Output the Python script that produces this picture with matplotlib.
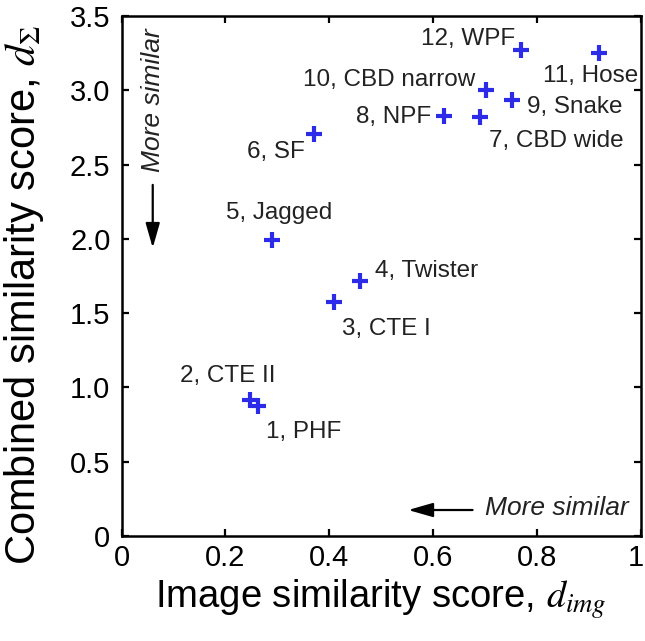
import matplotlib
matplotlib.use("Agg")
import matplotlib.pyplot as plt
import matplotlib.transforms as mtransforms

plt.rcParams['font.family'] = ['Liberation Sans', 'DejaVu Sans']
plt.rcParams['mathtext.fontset'] = 'stix'

# data
names = ['1, PHF', '2, CTE II', '3, CTE I', '4, Twister', '5, Jagged', '6, SF',
         '7, CBD wide', '8, NPF', '9, Snake', '10, CBD narrow', '11, Hose', '12, WPF']
d_img = [0.262, 0.248, 0.410, 0.460, 0.290, 0.370,
         0.690, 0.621, 0.751, 0.701, 0.920, 0.770]
d_sum = [0.876, 0.915, 1.575, 1.717, 1.990, 2.706,
         2.820, 2.825, 2.937, 3.006, 3.255, 3.274]

xticks = [0, 0.2, 0.4, 0.6, 0.8, 1]
xticklabels = ['0', '0.2', '0.4', '0.6', '0.8', '1']
yticks = [0, 0.5, 1.0, 1.5, 2.0, 2.5, 3.0, 3.5]
yticklabels = ['0', '0.5', '1.0', '1.5', '2.0', '2.5', '3.0', '3.5']

# label placement, pixels from the marker (dx right, dy down), text centred at dx, baseline at dy
label_off = [(46, 32), (-23, -18), (52, 33), (66, -4), (7, -21), (-38, 24),
             (76, 30), (-50, 7), (63, 13), (-96, -4), (-9, 29), (-53, -5)]

fig = plt.figure(figsize=(6.45, 6.41), dpi=100)
ax = fig.add_axes([0.1885, 0.1638, 0.805, 0.811])

ax.plot(d_img, d_sum, linestyle='none', marker='+', color='#2b2be8',
        markersize=11, markeredgewidth=3)

for name, x, y, (dx, dy) in zip(names, d_img, d_sum, label_off):
    ax.annotate(name, (x, y), xytext=(dx, -dy), textcoords='offset pixels',
                ha='center', va='baseline', fontsize=17.5, color='#222222')

# "More similar" hints
arrow = dict(arrowstyle='-|>,head_length=1.5,head_width=0.43',
             color='black', lw=1.6, shrinkA=0, shrinkB=0)
ax.annotate('', xy=(0.552, 0.175), xytext=(0.676, 0.175), arrowprops=arrow)
ax.text(0.70, 0.19, 'More similar', style='italic', fontsize=19,
        ha='left', va='center', color='#222222')
ax.annotate('', xy=(0.06, 1.94), xytext=(0.06, 2.364), arrowprops=arrow)
ax.text(0.06, 2.936, 'More similar', style='italic', fontsize=19, rotation=90,
        ha='center', va='center', color='#222222')

ax.set_xlim(0, 1)
ax.set_ylim(0, 3.5)
ax.set_xticks(xticks)
ax.set_xticklabels(xticklabels)
ax.set_yticks(yticks)
ax.set_yticklabels(yticklabels)
ax.tick_params(direction='in', length=5, width=1.6, labelsize=21,
               top=True, right=True, pad=6)
ax.tick_params(axis='y', pad=8)
for s in ax.spines.values():
    s.set_linewidth(1.8)

# last x label sits right at the figure edge, nudge it in a bit
lab = ax.get_xticklabels()[-1]
lab.set_transform(lab.get_transform() +
                  mtransforms.ScaledTranslation(-5 / 100, 0, fig.dpi_scale_trans))

ax.set_xlabel('Image similarity score, $d_{img}$', fontsize=27.5, labelpad=4)
ax.set_ylabel(r'Combined similarity score, $d_{\mathit{\Sigma}}$', fontsize=30)
ax.yaxis.set_label_coords(-0.145, 0.464)

fig.savefig('out.png', dpi=100)
